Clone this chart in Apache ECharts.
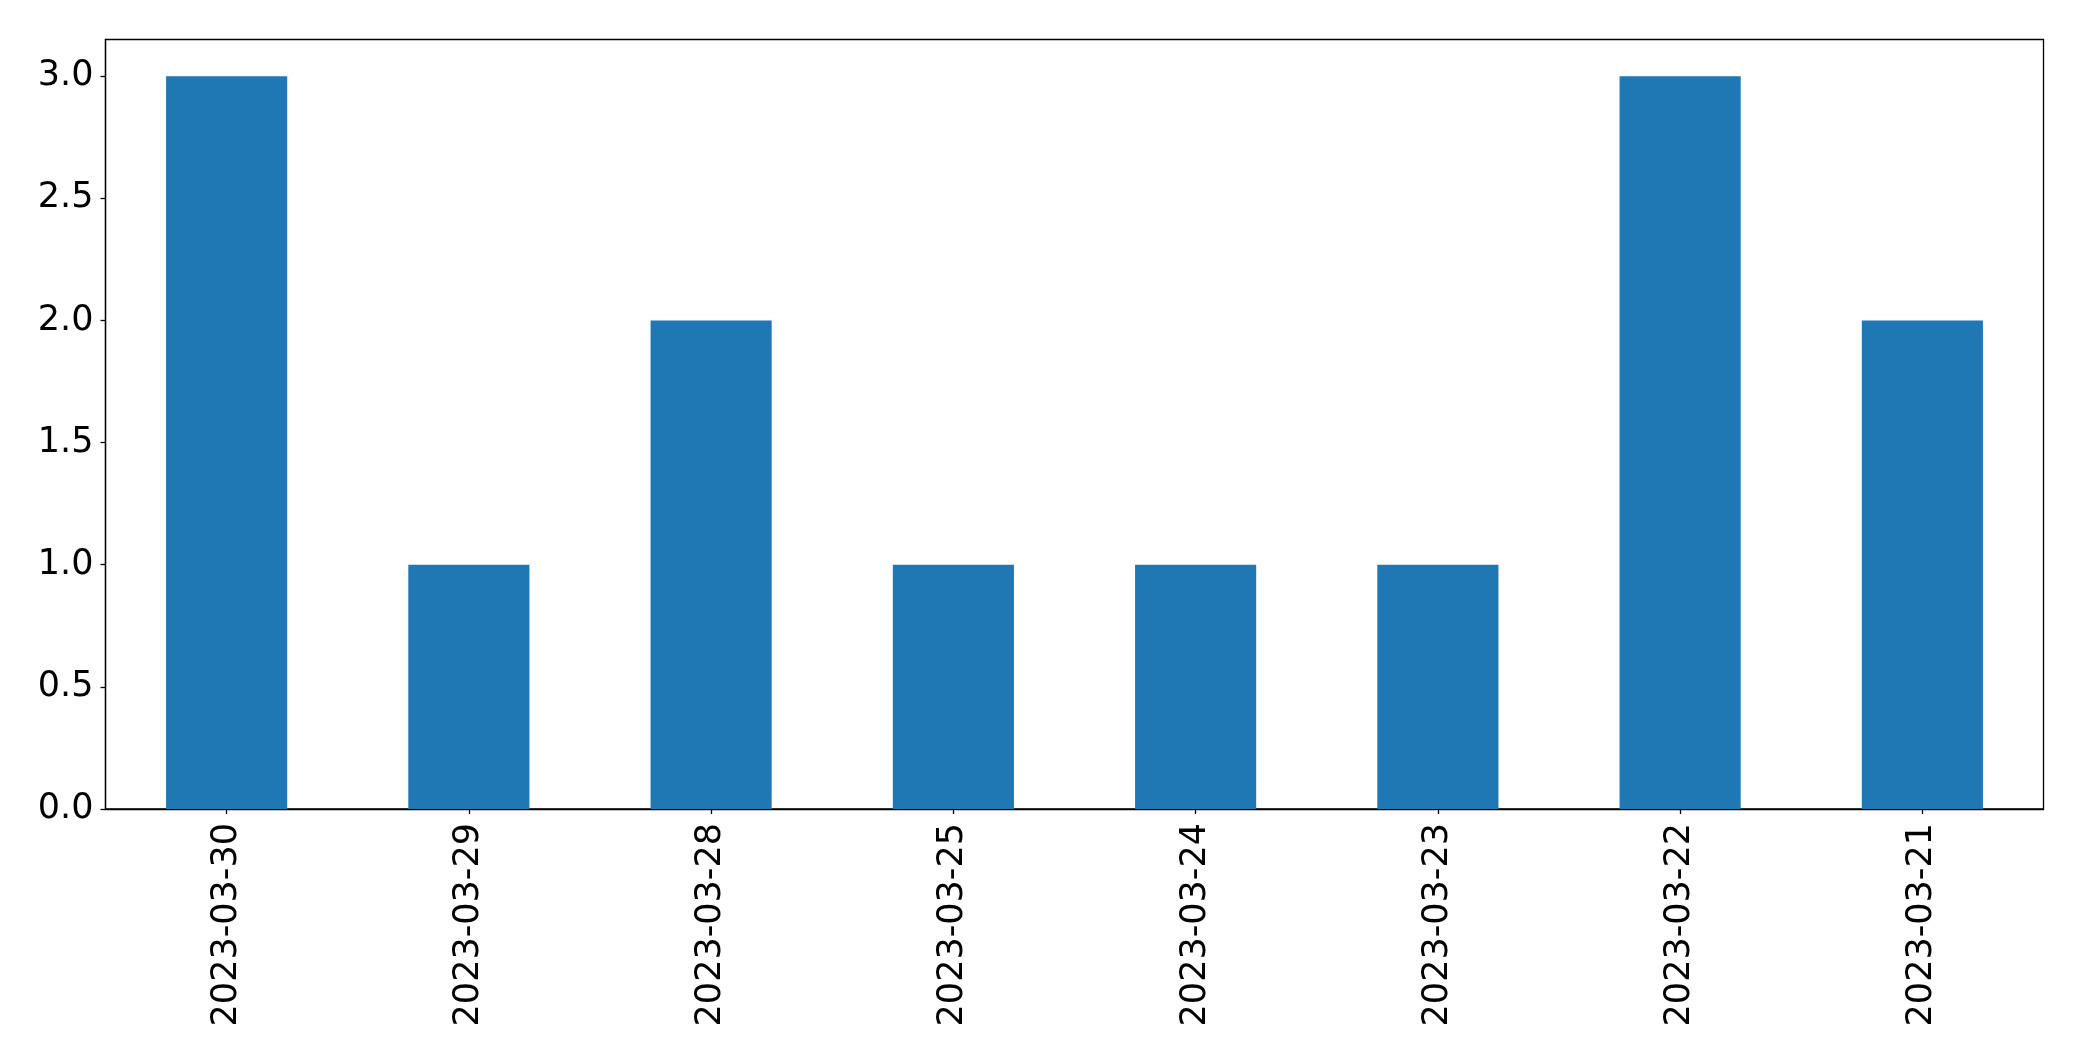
<!DOCTYPE html>
<html>
<head>
<meta charset="utf-8">
<script src="https://cdn.jsdelivr.net/npm/echarts@6/dist/echarts.min.js"></script>
<style>html,body{margin:0;padding:0;background:#fff}#c{width:2082px;height:1061px}</style>
</head>
<body>
<div id="c"></div>
<script>
const categories = ['2023-03-30','2023-03-29','2023-03-28','2023-03-25','2023-03-24','2023-03-23','2023-03-22','2023-03-21'];
const counts = [3, 1, 2, 1, 1, 1, 3, 2];
const yTicks = [0, 0.5, 1, 1.5, 2, 2.5, 3];

const chart = echarts.init(document.getElementById('c'), null, {renderer: 'canvas'});
const font = 'DejaVu Sans';
chart.setOption({
  animation: false,
  backgroundColor: '#ffffff',
  grid: {left: 105.5, right: 38.5, top: 39.5, bottom: 252, show: true, borderColor: '#000', borderWidth: 1.3, backgroundColor: 'transparent'},
  xAxis: {
    type: 'category',
    data: categories,
    axisLine: {show: true, lineStyle: {color: '#000', width: 1.3}},
    axisTick: {show: true, alignWithLabel: true, length: 5, lineStyle: {color: '#000', width: 1.3}},
    axisLabel: {rotate: 90, margin: 14, fontSize: 35, fontFamily: font, color: '#000', interval: 0},
    splitLine: {show: false}
  },
  yAxis: {
    type: 'value',
    min: 0, max: 3.15, interval: 0.5,
    axisLine: {show: true, lineStyle: {color: '#000', width: 1.3}},
    axisTick: {show: true, length: 5, lineStyle: {color: '#000', width: 1.3}},
    axisLabel: {margin: 12, fontSize: 35, fontFamily: font, color: '#000',
      showMaxLabel: false,
      formatter: v => yTicks.some(t => Math.abs(t - v) < 1e-9) ? v.toFixed(1) : ''},
    splitLine: {show: false}
  },
  series: [{
    type: 'bar',
    data: counts,
    barWidth: '50%',
    itemStyle: {color: '#1f77b4'}
  }]
});
</script>
</body>
</html>
